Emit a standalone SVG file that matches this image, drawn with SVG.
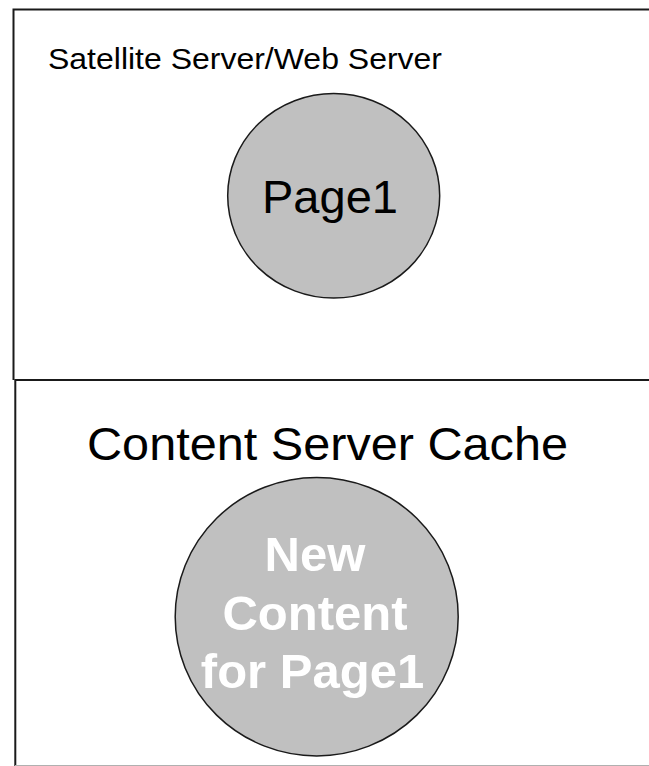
<svg xmlns="http://www.w3.org/2000/svg" width="649" height="766" viewBox="0 0 649 766">
  <style>
    .frame { fill: none; stroke: #1a1a1a; stroke-width: 2; }
    .bubble { fill: #c0c0c0; stroke: #1a1a1a; stroke-width: 1.5; }
    .label { font-family: "Liberation Sans", Arial, sans-serif; fill: #000; }
    .inner { font-family: "Liberation Sans", Arial, sans-serif; font-weight: bold; fill: #ffffff; font-size: 49px; text-anchor: middle; }
  </style>
  <rect width="649" height="766" fill="#ffffff"/>

  <!-- upper tier: satellite / web server -->
  <g id="satellite-server">
    <polyline class="frame" points="700,9.5 13.5,9.5 13.5,380"/>
    <text class="label" x="48" y="69" font-size="29.5" textLength="394" lengthAdjust="spacingAndGlyphs">Satellite Server/Web Server</text>
  </g>
  <g id="page1">
    <ellipse class="bubble" cx="333.7" cy="195.8" rx="106" ry="102.3"/>
    <text class="label" x="262" y="213.3" font-size="46" textLength="136" lengthAdjust="spacingAndGlyphs">Page1</text>
  </g>

  <!-- lower tier: content server cache -->
  <g id="content-server-cache">
    <polyline class="frame" points="700,380 15.3,380 15.3,800"/>
    <line x1="15" y1="765.5" x2="700" y2="765.5" stroke="#b0b0b0" stroke-width="1"/>
    <text class="label" x="87" y="460" font-size="46" textLength="481" lengthAdjust="spacingAndGlyphs">Content Server Cache</text>
  </g>
  <g id="new-content">
    <ellipse class="bubble" cx="316.7" cy="616.7" rx="141.5" ry="139.2"/>
    <text class="inner" x="315" y="570.5">New</text>
    <text class="inner" x="315" y="630">Content</text>
    <text class="inner" x="312.5" y="688">for Page1</text>
  </g>

  <!-- no connectors between the tiers -->
  <g id="connectors"/>
</svg>
